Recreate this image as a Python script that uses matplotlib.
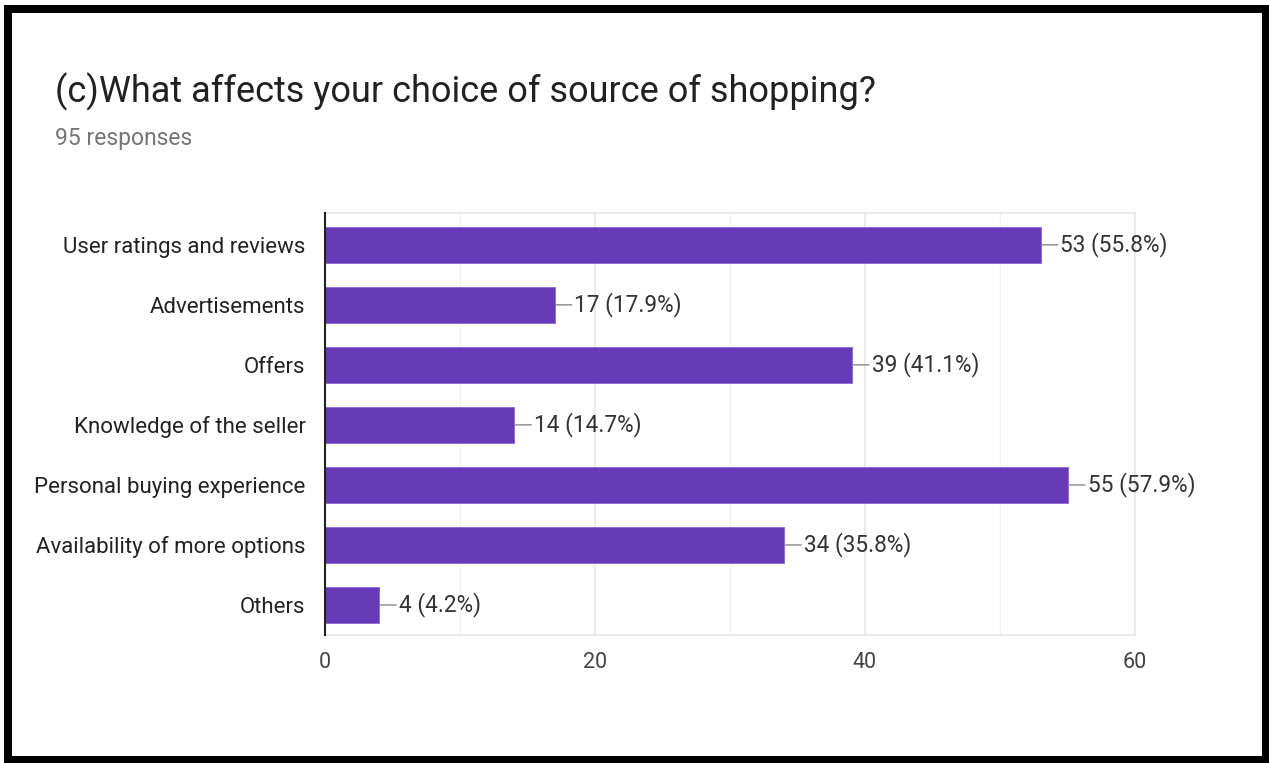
import matplotlib
matplotlib.use("Agg")
import matplotlib.pyplot as plt
from matplotlib.patches import Rectangle

categories = [
    "User ratings and reviews",
    "Advertisements",
    "Offers",
    "Knowledge of the seller",
    "Personal buying experience",
    "Availability of more options",
    "Others",
]
counts = [53, 17, 39, 14, 55, 34, 4]
total_responses = 95
x_ticks = [0, 20, 40, 60]
minor_grid = [10, 30, 50]

title = "(c)What affects your choice of source of shopping?"
subtitle = f"{total_responses} responses"

BAR = "#673AB7"
W, H, DPI = 1269, 763, 100

plt.rcParams["font.family"] = ["Roboto", "DejaVu Sans"]

fig = plt.figure(figsize=(W / DPI, H / DPI), dpi=DPI)
fig.patch.set_facecolor("white")

def fx(px):
    return px / W

def fy(py):
    return 1 - py / H

ax = fig.add_axes([fx(325), fy(635), fx(1135) - fx(325), fy(213) - fy(635)])

ypos = list(range(len(categories)))
ax.barh(ypos, counts, height=0.6, color=BAR, edgecolor="#8a67cf", linewidth=0.6, zorder=3)

ax.set_xlim(0, 60)
ax.set_ylim(len(categories) - 0.5, -0.53)

ax.set_yticks(ypos)
ax.set_yticklabels(categories, fontsize=16, color="#222222")
ax.set_xticks(x_ticks)
ax.set_xticklabels([str(t) for t in x_ticks], fontsize=15.5, color="#444444")
ax.tick_params(axis="both", length=0)
ax.tick_params(axis="y", pad=14)
ax.tick_params(axis="x", pad=12)

for g in x_ticks[1:]:
    ax.axvline(g, color="#e6e6e6", lw=1.2, zorder=1)
for g in minor_grid:
    ax.axvline(g, color="#f2f2f2", lw=1.0, zorder=1)

for side in ["top", "right", "bottom"]:
    ax.spines[side].set_color("#e6e6e6")
    ax.spines[side].set_linewidth(1.2)
ax.spines["left"].set_color("#222222")
ax.spines["left"].set_linewidth(1.5)
ax.spines["left"].set_zorder(4)

for i, v in enumerate(counts):
    pct = v / total_responses * 100
    ax.annotate(
        f"{v} ({pct:.1f}%)",
        xy=(v, i), xycoords="data",
        xytext=(20, 0), textcoords="offset pixels",
        ha="left", va="center", fontsize=16.3, color="#333333",
        arrowprops=dict(arrowstyle="-", color="#888888", lw=1.0,
                        shrinkA=0, shrinkB=1),
        zorder=5,
    )

fig.text(fx(55), fy(92), title, fontsize=26, color="#212121",
         ha="left", va="center")
fig.text(fx(55), fy(139), subtitle, fontsize=16.5, color="#757575",
         ha="left", va="center")

# black frame around the card
fig.patches.append(Rectangle((fx(8), fy(760)), fx(1266) - fx(8), fy(9) - fy(760),
                             transform=fig.transFigure, fill=False,
                             edgecolor="black", linewidth=8 * 72 / DPI, zorder=10))

fig.savefig("out.png", dpi=DPI, facecolor="white")
